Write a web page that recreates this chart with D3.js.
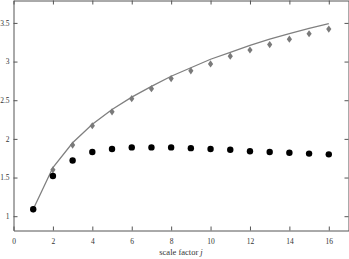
<!DOCTYPE html>
<html>
<head>
<meta charset="utf-8">
<script src="https://cdn.jsdelivr.net/npm/d3@7"></script>
<style>
  body { margin: 0; background: #fff; }
  text { font-family: "Liberation Serif", "DejaVu Serif", serif; fill: #333; }
</style>
</head>
<body>
<script>
// data
var scaleFactor = [1, 2, 3, 4, 5, 6, 7, 8, 9, 10, 11, 12, 13, 14, 15, 16];
var curveValues = [1.09, 1.63, 1.95, 2.19, 2.38, 2.54, 2.68, 2.81, 2.92, 3.03, 3.12, 3.21, 3.29, 3.36, 3.43, 3.49];
var diamondValues = [1.09, 1.60, 1.92, 2.17, 2.35, 2.52, 2.65, 2.78, 2.88, 2.97, 3.07, 3.15, 3.22, 3.29, 3.36, 3.42];
var circleValues = [1.09, 1.52, 1.72, 1.83, 1.87, 1.89, 1.89, 1.89, 1.88, 1.87, 1.86, 1.84, 1.83, 1.82, 1.81, 1.80];
var xTicks = [0, 2, 4, 6, 8, 10, 12, 14, 16];
var yTicks = [1, 1.5, 2, 2.5, 3, 3.5];

var width = 349, height = 259;
var plotLeft = 13.5, plotRight = 348.5, plotTop = 0.5, plotBottom = 230.5;

var svg = d3.select("body").append("svg")
    .attr("width", width)
    .attr("height", height);

var x = d3.scaleLinear().domain([0, 17]).range([plotLeft, plotRight]);
var y = d3.scaleLinear().domain([0.815, 3.79]).range([plotBottom, plotTop]);

// box with inward ticks on all four sides
var frame = "#555";
function styleAxis(g) {
  g.select(".domain").attr("stroke", frame);
  g.selectAll(".tick line").attr("stroke", frame);
  g.selectAll(".tick text").attr("font-size", 7.5).attr("fill", "#333")
    .attr("font-family", "Liberation Serif, serif");
}

svg.append("g")
    .attr("transform", "translate(0," + plotBottom + ")")
    .call(d3.axisBottom(x).tickValues(xTicks).tickSizeInner(-4).tickSizeOuter(0).tickPadding(8))
    .call(styleAxis);

svg.append("g")
    .attr("transform", "translate(0," + plotTop + ")")
    .call(d3.axisTop(x).tickValues(xTicks).tickSizeInner(-4).tickSizeOuter(0).tickFormat(""))
    .call(styleAxis);

svg.append("g")
    .attr("transform", "translate(" + plotLeft + ",0)")
    .call(d3.axisLeft(y).tickValues(yTicks).tickSizeInner(-4).tickSizeOuter(0).tickPadding(4).tickFormat(d3.format("")))
    .call(styleAxis);

svg.append("g")
    .attr("transform", "translate(" + plotRight + ",0)")
    .call(d3.axisRight(y).tickValues(yTicks).tickSizeInner(-4).tickSizeOuter(0).tickFormat(""))
    .call(styleAxis);

// x axis label
var label = svg.append("text")
    .attr("x", (plotLeft + plotRight) / 2)
    .attr("y", 255)
    .attr("text-anchor", "middle")
    .attr("font-size", 8.5);
label.append("tspan").text("scale factor ");
label.append("tspan").attr("font-style", "italic").text("j");

// the curve
var line = d3.line()
    .x(function(d, i) { return x(scaleFactor[i]); })
    .y(function(d) { return y(d); });

svg.append("path")
    .datum(curveValues)
    .attr("fill", "none")
    .attr("stroke", "#808080")
    .attr("stroke-width", 1.3)
    .attr("d", line);

// gray diamonds
svg.append("g").selectAll("path")
    .data(diamondValues)
    .join("path")
    .attr("transform", function(d, i) { return "translate(" + x(scaleFactor[i]) + "," + y(d) + ")"; })
    .attr("d", "M0,-3.6L2.6,0L0,3.6L-2.6,0Z")
    .attr("fill", "#7a7a7a");

// black circles
svg.append("g").selectAll("circle")
    .data(circleValues)
    .join("circle")
    .attr("cx", function(d, i) { return x(scaleFactor[i]); })
    .attr("cy", function(d) { return y(d); })
    .attr("r", 3.2)
    .attr("fill", "#000");
</script>
</body>
</html>
